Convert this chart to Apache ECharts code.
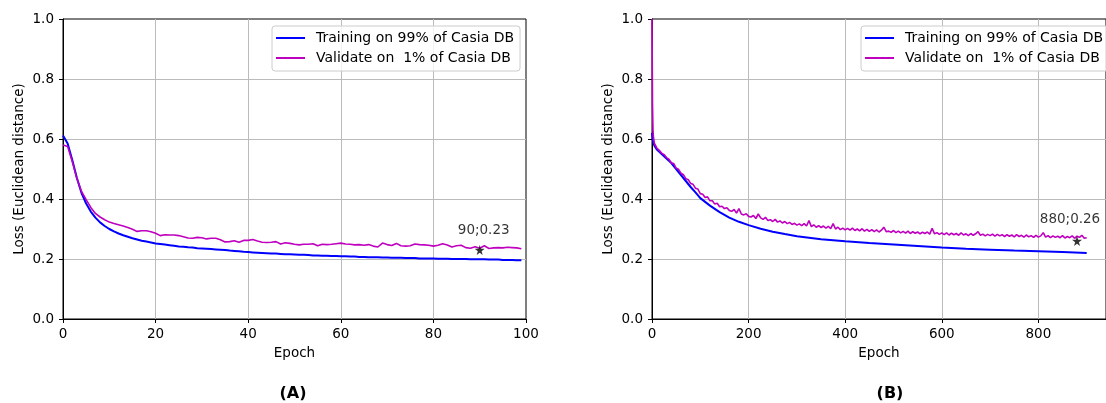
<!DOCTYPE html>
<html>
<head>
<meta charset="utf-8">
<script src="https://cdn.jsdelivr.net/npm/echarts@6/dist/echarts.min.js"></script>
<style>
  html, body { margin: 0; padding: 0; background: #fff; }
  #chart { width: 1106px; height: 403px; }
</style>
</head>
<body>
<div id="chart"></div>
<script>
// panel (A): 100 epochs
const trainA = [
  0.612,0.585,0.530,0.470,0.420,0.385,0.358,0.338,0.322,0.310,
  0.300,0.292,0.285,0.279,0.274,0.269,0.265,0.261,0.258,0.255,
  0.252,0.250,0.248,0.246,0.244,0.242,0.241,0.239,0.238,0.236,
  0.235,0.234,0.233,0.232,0.231,0.230,0.228,0.227,0.226,0.224,
  0.223,0.222,0.221,0.220,0.219,0.218,0.218,0.217,0.216,0.216,
  0.215,0.214,0.214,0.213,0.212,0.212,0.211,0.211,0.210,0.210,
  0.209,0.209,0.208,0.208,0.207,0.207,0.206,0.206,0.206,0.205,
  0.205,0.204,0.204,0.204,0.203,0.203,0.203,0.202,0.202,0.202,
  0.202,0.201,0.201,0.201,0.200,0.200,0.200,0.200,0.199,0.199,
  0.199,0.199,0.198,0.198,0.198,0.197,0.197,0.197,0.196,0.196
];
const validA = [
  0.580,0.575,0.525,0.468,0.425,0.398,0.372,0.352,0.340,0.331,
  0.323,0.318,0.314,0.310,0.305,0.299,0.292,0.294,0.294,0.291,
  0.286,0.278,0.281,0.280,0.280,0.278,0.274,0.270,0.269,0.272,
  0.271,0.267,0.269,0.269,0.264,0.257,0.258,0.261,0.256,0.262,
  0.262,0.265,0.260,0.256,0.255,0.256,0.258,0.250,0.254,0.252,
  0.249,0.247,0.249,0.249,0.251,0.244,0.249,0.248,0.249,0.251,
  0.253,0.250,0.249,0.247,0.248,0.246,0.248,0.243,0.240,0.253,
  0.248,0.245,0.252,0.244,0.243,0.244,0.250,0.248,0.247,0.246,
  0.243,0.246,0.251,0.247,0.240,0.244,0.246,0.238,0.236,0.241,
  0.236,0.244,0.235,0.237,0.238,0.237,0.239,0.238,0.237,0.234
];
const bestA = [90, 0.23];

// panel (B): ~900 epochs
const trainEpochB = [0,1,2,3,5,10,20,30,40,50,60,70,80,90,100,120,140,160,180,200,
  225,250,275,300,350,400,450,500,550,600,650,700,750,800,850,900];
const trainB = [0.62,0.605,0.595,0.588,0.578,0.565,0.55,0.535,0.52,0.50,0.48,0.46,0.44,0.422,0.403,0.378,0.356,0.338,0.324,0.313,
  0.301,0.291,0.283,0.276,0.266,0.259,0.253,0.248,0.243,0.238,0.234,0.231,0.228,0.226,0.223,0.220];

const validEpochB = [0,1,2,3,5,10,15,20,25,30,35,40,45,50,55,60,65,70,75,80,85,90,95,100,
  105,110,115,120,125,130,135,140,145,150,155,160,165,170,175,180,185,190,195,200,
  205,210,215,220,225,230,235,240,245,250,255,260,265,270,275,280,285,290,295,300,
  305,310,315,320,325,330,335,340,345,350,355,360,365,370,375,380,385,390,395,400,
  405,410,415,420,425,430,435,440,445,450,455,460,465,470,475,480,485,490,495,500,
  505,510,515,520,525,530,535,540,545,550,555,560,565,570,575,580,585,590,595,600,
  605,610,615,620,625,630,635,640,645,650,655,660,665,670,675,680,685,690,695,700,
  705,710,715,720,725,730,735,740,745,750,755,760,765,770,775,780,785,790,795,800,
  805,810,815,820,825,830,835,840,845,850,855,860,865,870,875,880,885,890,895,900];
const validB = [1.0,0.72,0.63,0.605,
  0.585,0.570,0.562,0.553,0.548,0.538,0.533,0.520,0.518,0.503,0.499,0.486,0.481,0.468,0.464,0.452,0.449,0.436,0.433,0.418,
  0.416,0.405,0.407,0.394,0.394,0.383,0.386,0.374,0.376,0.368,0.371,0.362,0.359,0.365,0.353,0.368,0.350,0.347,0.351,0.342,
  0.340,0.345,0.335,0.350,0.337,0.332,0.339,0.328,0.331,0.325,0.332,0.323,0.327,0.320,0.325,0.318,0.322,0.315,0.319,0.313,
  0.317,0.311,0.318,0.310,0.328,0.308,0.314,0.306,0.311,0.305,0.310,0.303,0.309,0.301,0.318,0.300,0.306,0.298,0.303,0.297,
  0.302,0.296,0.303,0.295,0.300,0.294,0.301,0.293,0.299,0.292,0.298,0.291,0.297,0.290,0.296,0.306,0.291,0.293,0.289,0.295,
  0.288,0.293,0.287,0.292,0.286,0.293,0.285,0.291,0.286,0.290,0.284,0.289,0.285,0.290,0.283,0.302,0.284,0.288,0.282,0.287,
  0.281,0.287,0.280,0.286,0.281,0.285,0.279,0.287,0.280,0.284,0.278,0.285,0.279,0.284,0.291,0.279,0.283,0.277,0.282,0.278,
  0.283,0.276,0.282,0.277,0.281,0.275,0.281,0.276,0.280,0.274,0.281,0.275,0.279,0.273,0.280,0.274,0.278,0.272,0.279,0.273,
  0.277,0.288,0.273,0.278,0.271,0.277,0.272,0.276,0.271,0.278,0.270,0.275,0.271,0.277,0.269,0.276,0.272,0.279,0.269,0.271
];
const bestB = [880, 0.26];

const yTicks = [0, 0.2, 0.4, 0.6, 0.8, 1.0];
const names = ['Training on 99% of Casia DB', 'Validate on  1% of Casia DB'];
const panelLabels = ['(A)', '(B)'];

const FONT = 'DejaVu Sans';
const BLUE = '#0000ff';
const MAGENTA = '#bf00bf';
const STAR = 'path://M50,0 L61,35 L98,35 L68,57 L79,91 L50,70 L21,91 L32,57 L2,35 L39,35 Z';

const chart = echarts.init(document.getElementById('chart'), null, { renderer: 'canvas' });

function xAxis(gridIndex, max, interval) {
  return {
    type: 'value', gridIndex, min: 0, max, interval,
    name: 'Epoch', nameLocation: 'middle', nameGap: 27,
    nameTextStyle: { fontFamily: FONT, fontSize: 13.5, color: '#000' },
    axisLine: { lineStyle: { color: '#000', width: 1 } },
    axisTick: { show: true, length: 4, lineStyle: { color: '#000' } },
    axisLabel: { fontFamily: FONT, fontSize: 13.5, color: '#000', margin: 8, showMaxLabel: max % interval === 0 },
    splitLine: { show: true, showMinLine: false, showMaxLine: false, lineStyle: { color: '#bbbbbb', width: 1 } }
  };
}
function yAxis(gridIndex) {
  return {
    type: 'value', gridIndex, min: yTicks[0], max: yTicks[yTicks.length - 1], interval: 0.2,
    name: 'Loss (Euclidean distance)', nameLocation: 'middle', nameGap: 37,
    nameTextStyle: { fontFamily: FONT, fontSize: 13.5, color: '#000' },
    axisLine: { show: true, lineStyle: { color: '#000', width: 1 } },
    axisTick: { show: true, length: 4, lineStyle: { color: '#000' } },
    axisLabel: { fontFamily: FONT, fontSize: 13.5, color: '#000', margin: 9, formatter: v => v.toFixed(1) },
    splitLine: { show: true, showMinLine: false, showMaxLine: false, lineStyle: { color: '#bbbbbb', width: 1 } }
  };
}
function legend(left) {
  return {
    data: names, orient: 'vertical', left, top: 26,
    icon: 'rect', itemWidth: 29, itemHeight: 2, itemGap: 6,
    padding: [5, 6, 6, 4],
    borderColor: '#cccccc', borderWidth: 1, borderRadius: 3,
    backgroundColor: 'rgba(255,255,255,0.8)',
    textStyle: { fontFamily: FONT, fontSize: 14, color: '#000', lineHeight: 14, padding: [0, 0, 0, 6] },
    selectedMode: false
  };
}
function star(xi, pt, offset) {
  return {
    type: 'scatter', xAxisIndex: xi, yAxisIndex: xi, data: [pt],
    symbol: STAR, symbolSize: 10, z: 5,
    itemStyle: { color: '#000' },
    label: {
      show: true, position: 'top', distance: 4, offset,
      formatter: p => p.value[0] + ';' + p.value[1].toFixed(2),
      fontFamily: FONT, fontSize: 13.5, color: '#000'
    }
  };
}

chart.setOption({
  animation: false,
  backgroundColor: '#fff',
  grid: [
    { left: 63, right: 580, top: 19, bottom: 84, show: true, borderColor: '#000', borderWidth: 1, backgroundColor: 'transparent' },
    { left: 652, right: -3, top: 19, bottom: 84, show: true, borderColor: '#000', borderWidth: 1, backgroundColor: 'transparent' }
  ],
  legend: [legend(272), legend(861)],
  xAxis: [xAxis(0, 100, 20), xAxis(1, 940, 200)],
  yAxis: [yAxis(0), yAxis(1)],
  graphic: [
    { type: 'text', x: 293, y: 394, style: { text: panelLabels[0], font: 'bold 16px "DejaVu Sans"', textAlign: 'center', textVerticalAlign: 'middle', fill: '#000' } },
    { type: 'text', x: 890, y: 394, style: { text: panelLabels[1], font: 'bold 16px "DejaVu Sans"', textAlign: 'center', textVerticalAlign: 'middle', fill: '#000' } }
  ],
  series: [
    { name: names[0], type: 'line', xAxisIndex: 0, yAxisIndex: 0, symbol: 'none',
      data: trainA.map((v, i) => [i, v]), lineStyle: { color: BLUE, width: 2 }, itemStyle: { color: BLUE } },
    { name: names[1], type: 'line', xAxisIndex: 0, yAxisIndex: 0, symbol: 'none',
      data: validA.map((v, i) => [i, v]), lineStyle: { color: MAGENTA, width: 1.6 }, itemStyle: { color: MAGENTA } },
    star(0, bestA, [4, -4]),
    { name: names[0], type: 'line', xAxisIndex: 1, yAxisIndex: 1, symbol: 'none',
      data: trainB.map((v, i) => [trainEpochB[i], v]), lineStyle: { color: BLUE, width: 2 }, itemStyle: { color: BLUE } },
    { name: names[1], type: 'line', xAxisIndex: 1, yAxisIndex: 1, symbol: 'none',
      data: validB.map((v, i) => [validEpochB[i], v]), lineStyle: { color: MAGENTA, width: 1.6 }, itemStyle: { color: MAGENTA } },
    star(1, bestB, [-7, -6])
  ]
});
</script>
</body>
</html>
